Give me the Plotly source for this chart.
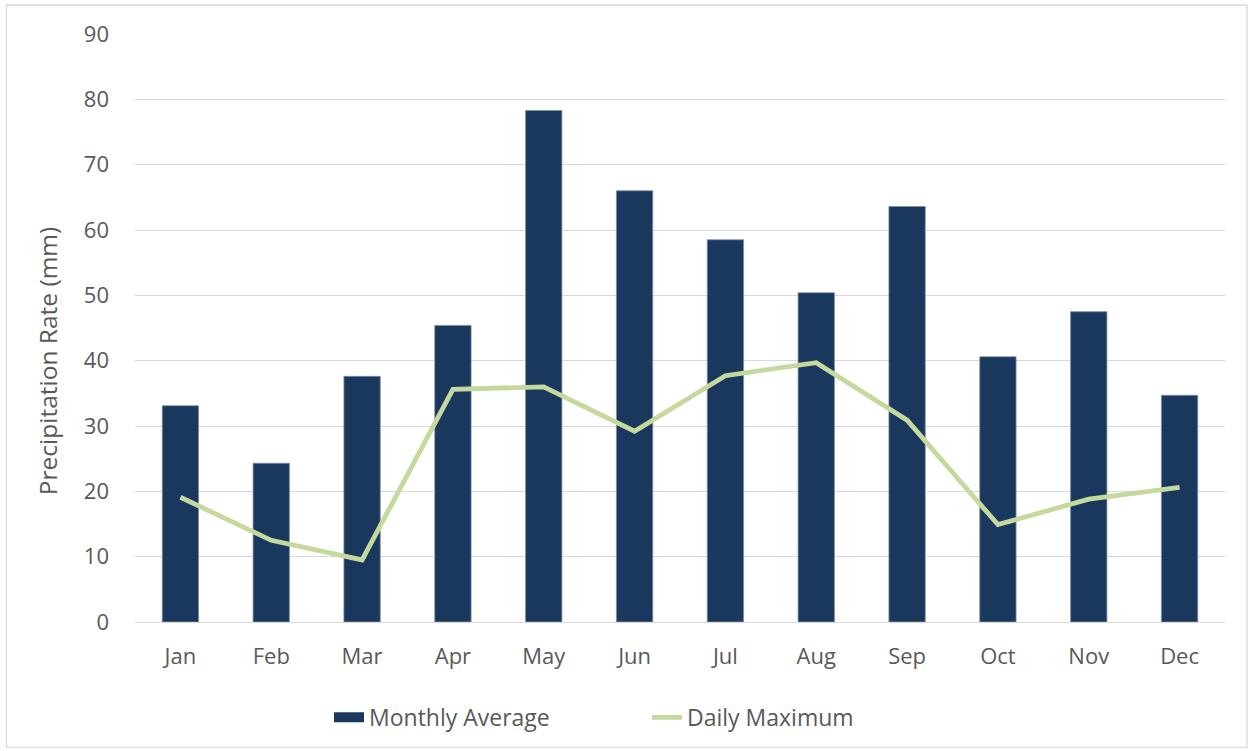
import plotly.graph_objects as go

months = ["Jan", "Feb", "Mar", "Apr", "May", "Jun", "Jul", "Aug", "Sep", "Oct", "Nov", "Dec"]
monthly_average = [33.1, 24.3, 37.6, 45.4, 78.3, 66.0, 58.5, 50.4, 63.6, 40.6, 47.5, 34.7]
daily_maximum = [19.1, 12.5, 9.5, 35.6, 36.0, 29.2, 37.7, 39.7, 30.9, 14.9, 18.8, 20.6]

FONT = "Open Sans"
TXT = "#595959"
NAVY = "#1A375E"
GREEN = "#C5D89D"

fig = go.Figure()
fig.add_trace(go.Bar(
    x=months, y=monthly_average, name="Monthly Average", showlegend=False,
    marker=dict(color=NAVY, line=dict(color="#7F8FA6", width=0.8)),
))
# legend entry drawn as a wide rectangle like the original
fig.add_trace(go.Scatter(
    x=[None], y=[None], name="Monthly Average", mode="lines",
    line=dict(color=NAVY, width=15), hoverinfo="skip",
))
fig.add_trace(go.Scatter(
    x=months, y=daily_maximum, name="Daily Maximum", mode="lines",
    line=dict(color=GREEN, width=4.8),
))

PH = 587.7
fig.update_layout(
    width=1253, height=751,
    margin=dict(l=135, r=28, t=34, b=129),
    paper_bgcolor="white", plot_bgcolor="white",
    bargap=0.6,
    font=dict(family=FONT, color=TXT, size=22),
    showlegend=True,
    legend=dict(orientation="h", x=(329 - 135) / 1090, xanchor="left", y=(621.7 - 717) / PH, yanchor="middle",
                font=dict(size=23, color=TXT), itemwidth=30, entrywidth=273),
    xaxis=dict(showgrid=False, showline=False, ticks="", tickfont=dict(size=22), ticklabelstandoff=19),
    yaxis=dict(range=[0, 90], dtick=10, showgrid=True, gridcolor="#D9D9D9", gridwidth=1.3,
               zeroline=True, zerolinecolor="#D9D9D9", zerolinewidth=1.3,
               tickfont=dict(size=22), ticklabelstandoff=25),
    annotations=[dict(text="Precipitation Rate (mm)", textangle=-90, showarrow=False,
                      xref="paper", yref="paper", x=(47 - 135) / 1090, y=(621.7 - 361) / PH,
                      xanchor="center", yanchor="middle", font=dict(size=24.5, color=TXT))],
    shapes=[dict(type="rect", xref="paper", yref="paper",
                 x0=(6.5 - 135) / 1090, x1=(1247 - 135) / 1090,
                 y0=(621.7 - 747) / PH, y1=(621.7 - 5) / PH,
                 line=dict(color="#D9D9D9", width=1.3), layer="below")],
)

fig.write_html("out.html", config={"displayModeBar": False},
               post_script="document.body.style.margin='0';document.body.style.overflow='hidden';")
